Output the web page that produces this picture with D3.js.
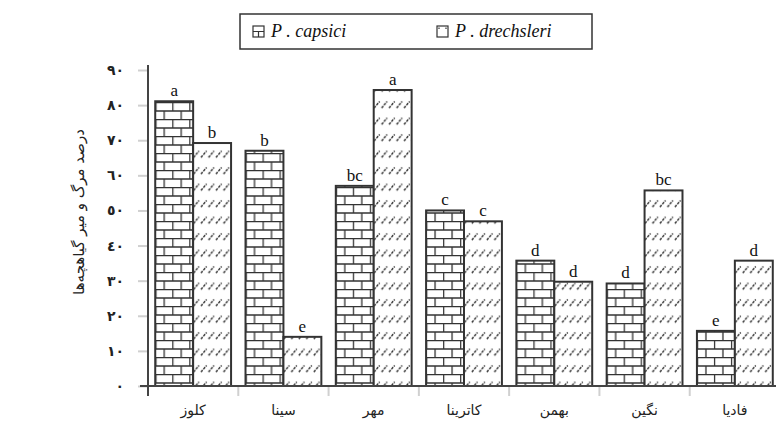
<!DOCTYPE html>
<html>
<head>
<meta charset="utf-8">
<script src="https://cdn.jsdelivr.net/npm/d3@7"></script>
<style>
  body { margin: 0; background: #fff; }
  svg { display: block; }
  .fa { font-family: "DejaVu Sans", sans-serif; }
  .lat { font-family: "Liberation Serif", "DejaVu Serif", serif; }
</style>
</head>
<body>
<div id="graph"></div>
<script>
// cultivars (x categories)
const cultivars = ['کلوز', 'سینا', 'مهر', 'کاترینا', 'بهمن', 'نگین', 'فادیا'];
// mortality % per pathogen
const capsici = [81.1, 67, 57, 50, 35.7, 29.2, 15.7];
const drechsleri = [69.2, 14, 84.3, 46.9, 29.7, 55.7, 35.7];
// significance letters
const capsiciLetters = ['a', 'b', 'bc', 'c', 'd', 'd', 'e'];
const drechsleriLetters = ['b', 'e', 'a', 'c', 'd', 'bc', 'd'];
const seriesNames = ['P . capsici', 'P . drechsleri'];
const yTicks = [0, 10, 20, 30, 40, 50, 60, 70, 80, 90];
const yLabel = 'درصد مرگ و میر گیاهچه‌ها';

const svgWidth = 776;
const svgHeight = 423;

const svg = d3.select('#graph')
  .append('svg')
  .attr('width', svgWidth)
  .attr('height', svgHeight);

const defs = svg.append('defs');

// brick pattern for capsici
const brick = defs.append('pattern')
  .attr('id', 'brick')
  .attr('patternUnits', 'userSpaceOnUse')
  .attr('width', 17).attr('height', 17);
brick.append('rect').attr('width', 17).attr('height', 17).attr('fill', '#fff');
brick.append('path')
  .attr('d', 'M0,0.5H17M0,9H17M0.6,0V9M9,9V17')
  .attr('stroke', '#333').attr('stroke-width', 1.3).attr('fill', 'none');

// dashed hatch for drechsleri
const hatch = defs.append('pattern')
  .attr('id', 'hatch')
  .attr('patternUnits', 'userSpaceOnUse')
  .attr('width', 7.5).attr('height', 16.5);
hatch.append('rect').attr('width', 7.5).attr('height', 16.5).attr('fill', '#fff');
hatch.append('path')
  .attr('d', 'M0.8,9L6.3,2.5')
  .attr('stroke', '#2a2a2a').attr('stroke-width', 1.4)
  .attr('stroke-dasharray', '2.6 1.1').attr('fill', 'none');

const x0 = d3.scaleBand()
  .domain(cultivars)
  .range([148, 780])
  .paddingInner(0.16)
  .paddingOuter(0.08);

const x1 = d3.scaleBand()
  .domain([0, 1])
  .range([0, x0.bandwidth()]);

const y = d3.scaleLinear()
  .domain([0, 90])
  .range([386, 70]);

const toFa = n => String(n).replace(/\d/g, dgt => '٠١٢٣٤٥٦٧٨٩'[dgt]);

// y tick marks (light) and labels
const yAxis = svg.append('g').attr('transform', 'translate(148,0)')
  .call(d3.axisLeft(y).tickValues(yTicks).tickSize(10).tickPadding(14).tickFormat(toFa));
yAxis.select('.domain').remove();
yAxis.selectAll('.tick line').attr('stroke', '#d0d0d0').attr('stroke-width', 2);
yAxis.selectAll('.tick text')
  .attr('class', 'fa')
  .attr('font-size', 14)
  .attr('font-weight', 'bold')
  .attr('fill', '#222');

// category separators under x axis
const step = x0.step();
const seps = d3.range(1, cultivars.length + 1).map(i => x0(cultivars[0]) - step * x0.paddingInner() / 2 + step * i);
svg.append('g').selectAll('line')
  .data(seps)
  .join('line')
  .attr('x1', d => d).attr('x2', d => d)
  .attr('y1', 387).attr('y2', 396)
  .attr('stroke', '#d0d0d0').attr('stroke-width', 2);

// bars
const rows = cultivars.map((c, i) => ({ c, vals: [capsici[i], drechsleri[i]], letters: [capsiciLetters[i], drechsleriLetters[i]] }));
const fills = ['url(#brick)', 'url(#hatch)'];

const groups = svg.append('g').selectAll('g')
  .data(rows)
  .join('g')
  .attr('transform', d => `translate(${x0(d.c)},0)`);

groups.selectAll('rect')
  .data(d => d.vals.map((v, k) => ({ v, k })))
  .join('rect')
  .attr('x', d => x1(d.k))
  .attr('y', d => y(d.v))
  .attr('width', x1.bandwidth())
  .attr('height', d => y(0) - y(d.v))
  .attr('fill', d => fills[d.k])
  .attr('stroke', '#333')
  .attr('stroke-width', 2);

groups.selectAll('text')
  .data(d => d.vals.map((v, k) => ({ v, k, l: d.letters[k] })))
  .join('text')
  .attr('class', 'lat')
  .attr('x', d => x1(d.k) + x1.bandwidth() / 2)
  .attr('y', d => y(d.v) - 5)
  .attr('text-anchor', 'middle')
  .attr('font-size', 17)
  .attr('fill', '#111')
  .text(d => d.l);

// axis lines
svg.append('line')
  .attr('x1', 140).attr('x2', svgWidth)
  .attr('y1', y(0)).attr('y2', y(0))
  .attr('stroke', '#444').attr('stroke-width', 2);
svg.append('line')
  .attr('x1', 148).attr('x2', 148)
  .attr('y1', 65).attr('y2', 396)
  .attr('stroke', '#444').attr('stroke-width', 2);

// x labels
svg.append('g').selectAll('text')
  .data(cultivars)
  .join('text')
  .attr('class', 'fa')
  .attr('x', d => x0(d) + x0.bandwidth() / 2)
  .attr('y', 415)
  .attr('text-anchor', 'middle')
  .attr('font-size', 14)
  .attr('fill', '#222')
  .text(d => d);

// y label
svg.append('text')
  .attr('class', 'fa')
  .attr('transform', 'translate(84,212) rotate(-90)')
  .attr('text-anchor', 'middle')
  .attr('font-size', 15)
  .attr('fill', '#222')
  .text(yLabel);

// legend
const legend = svg.append('g');
legend.append('rect')
  .attr('x', 240).attr('y', 14)
  .attr('width', 352).attr('height', 35)
  .attr('fill', '#fff').attr('stroke', '#333').attr('stroke-width', 1.5);

const legItems = legend.selectAll('g')
  .data(seriesNames)
  .join('g')
  .attr('transform', (d, i) => `translate(${i === 0 ? 253 : 437},26)`);
legItems.append('rect')
  .attr('width', 11).attr('height', 11)
  .attr('fill', '#fff').attr('stroke', '#333').attr('stroke-width', 1.2);
legItems.filter((d, i) => i === 0).append('path')
  .attr('d', 'M0,5.5H11M5.5,5.5V11')
  .attr('stroke', '#333').attr('stroke-width', 1.2);
legItems.filter((d, i) => i === 1).append('path')
  .attr('d', 'M2,1.5V3M9,1.5V3')
  .attr('stroke', '#333').attr('stroke-width', 1.2);
legItems.append('text')
  .attr('class', 'lat')
  .attr('x', 18).attr('y', 11)
  .attr('font-size', 18)
  .attr('font-style', 'italic')
  .attr('fill', '#111')
  .text(d => d);
</script>
</body>
</html>
